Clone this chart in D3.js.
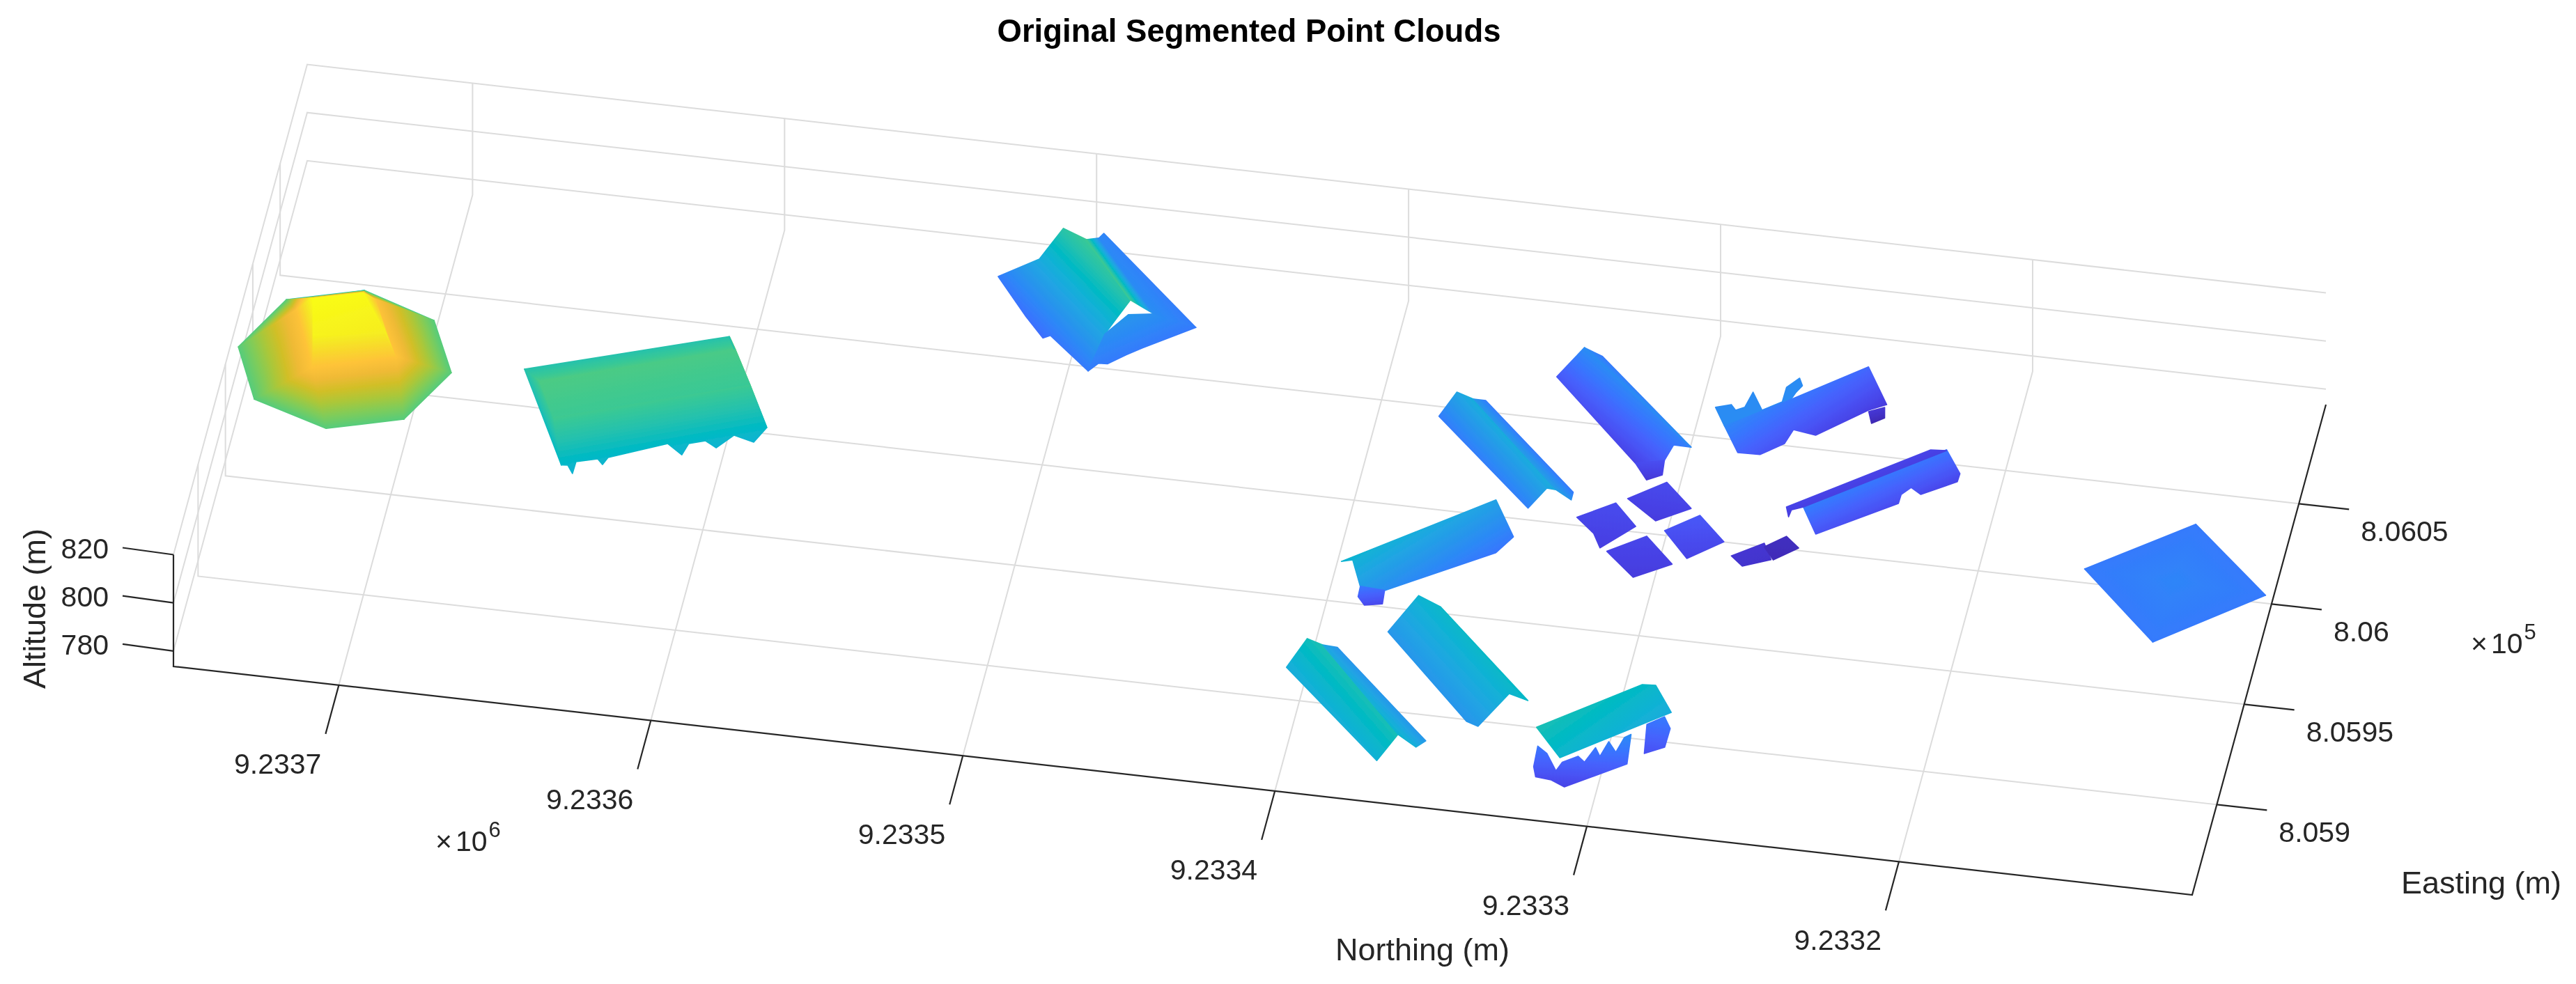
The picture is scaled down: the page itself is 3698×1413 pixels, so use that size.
<!DOCTYPE html>
<html><head><meta charset="utf-8">
<script src="https://cdn.jsdelivr.net/npm/d3@7"></script>
<style>html,body{margin:0;padding:0;background:#fff}svg{display:block}text{font-family:"Liberation Sans",Arial,sans-serif;fill:#262626}</style>
</head><body><svg id="chart" width="3698" height="1413"></svg>
<script>
// ---------- axis data (northing / easting stored in metres above these bases) ----------
const northingBase = 9233000, eastingBase = 805000;
const northingTicks = [700, 600, 500, 400, 300, 200];
const northingLabels = ["9.2337", "9.2336", "9.2335", "9.2334", "9.2333", "9.2332"];
const eastingTicks = [1050, 1000, 950, 900];
const eastingLabels = ["8.0605", "8.06", "8.0595", "8.059"];
const altitudeTicks = [820, 800, 780];
const altitudeLabels = ["820", "800", "780"];
const parula = ["#3e26a8","#4332cb","#4741e5","#4852f4","#4563fd","#3875fe","#2d87f7","#2796eb","#20a5e3","#12b1d6","#02bac3","#24c1ae","#37c897","#57cc7a","#80cc59","#abc739","#d1bf27","#efba36","#fec338","#f9d62d","#f5e924","#f9fb15"];

// ---------- building point data: [northing, easting, altitude] ----------
const domeV = [[753.9,978.7,803.1],[743.0,1004.2,803.1],[719.5,1012.9,803.1],[695.3,1002.2,803.1],[685.5,977.9,803.1],[696.3,952.8,803.1],[719.7,944.1,803.1],[744.5,954.3,803.1],[731.5,985.5,821],[716.1,991.0,821],[701.7,969.5,814.4],[727.0,959.8,814.4],[736.9,987.1,814],[712.9,996.6,814],[728.6,969.1,820.1],[705.6,974.3,819.1]];
const domeF = [[8,9,15,14],[14,15,10,11],[8,11,12],[9,13,15],[15,13,10],[9,2,13],[13,2,3],[13,3,10],[8,1,2],[8,2,9],[10,3,4],[10,4,5],[11,10,5],[11,5,6],[11,6,7],[12,11,7],[12,7,0],[12,0,1],[8,12,1]];
const roofV = [[663.9,988.5,798.9],[603.0,1015.5,798.9],[657.4,979.5,802.2],[599.3,1005.6,802.2],[584.2,976.8,796.1],[587.3,970.6,794.7],[593.7,971.3,796.1],[598.6,966.4,794.2],[602.1,967.0,796.1],[607.1,964.8,796.1],[608.8,961.7,793.7],[613.6,963.6,796.1],[631.0,953.6,796.1],[632.5,952.1,794.2],[634.1,952.4,796.1],[640.6,949.8,796.1],[641.2,946.7,793.7],[642.9,947.7,796.1],[644.9,947.4,796.1],[650.2,963.8,801.3],[592.0,990.9,800.8]];
const roofF = [[0,1,3,2],[0,2,19,18],[1,4,20,3],[2,3,20,19],[19,20,4,5,6,7,8,9,10,11,12,13,14,15,16,17,18]];
const gableV = [[507.8,1083.3,801.3],[499.8,1079.7,800.8],[480.9,1052.3,801.3],[485.0,1050.4,794.7],[488.3,1047.5,790],[491.2,1033.7,785.8],[505.9,1048.8,785.8],[508.1,1047.3,785.7],[515.1,1056.6,785.8],[527.2,1074.6,785.7],[515.0,1080.3,790],[482.8,1059.3,789.1],[475.1,1062.2,788.1],[461.3,1060.2,786.2],[476.3,1047.8,785.8],[480.7,1043.6,785.8],[485.8,1038.2,785.8],[488.6,1038.0,785.8],[497.8,1100.1,786.7],[498.6,1095.9,788.1]];
const gableF = [[0,1,2,3,4,5,6,7,8,9,10],[4,11,12,13,14,15,16,17,5],[1,19,12,2],[19,18,13,12]];
const longDV = [[338.4,1069.5,788.1],[332.5,1068.9,785.8],[296.8,1027.2,788.1],[303.2,1031.7,784.3],[305.5,1028.1,780.6],[305.5,1024.2,777.8],[310.1,1021.5,777.3],[314.5,1026.3,779.6],[345.9,1061.6,781.5]];
const longDF = [[0,2,3,4,7,8],[0,1,2],[4,5,6,7]];
const longEV = [[373.5,1036.6,791.9],[367.3,1032.0,793.7],[334.1,992.7,793.7],[337.6,996.2,790.9],[342.5,989.8,787.2],[378.3,1031.0,785.8],[367.9,1035.3,790.9],[365.2,1041.8,785.3],[329.8,1000.0,787.2],[329.6,995.1,788.1],[334.7,996.0,790.9]];
const longEF = [[0,1,2,3,4,5],[6,7,8,9,10]];
const wideFV = [[352.2,986.6,791.9],[345.0,977.4,785.3],[349.1,968.7,785.3],[379.9,941.1,788.1],[387.1,937.4,791.9],[391.1,946.5,794.7],[394.7,946.3,793.7],[388.3,944.5,785.8],[380.9,946.6,783.4],[381.2,944.4,779.6],[386.7,942.8,779.6],[388.8,943.2,782.5]];
const wideFF = [[0,1,2,3,4,5,6],[7,8,9,10,11]];
const longGV = [[398.0,902.7,797.5],[392.7,900.5,797.5],[361.5,860.2,798.4],[366.8,851.9,793.7],[402.8,892.1,793.7],[393.4,904.9,793.7],[389.8,911.0,788.1],[353.6,866.2,791.9],[356.4,864.3,790.5],[361.9,862.4,796.6]];
const longGF = [[0,1,2,3,4],[5,6,7,8,9]];
const longHV = [[367.4,931.8,795.6],[359.7,927.6,795.6],[324.5,887.0,795.6],[331.1,890.4,794.7],[338.8,877.3,790.9],[343.0,880.6,789.5],[375.2,920.3,789.0]];
const longHF = [[0,1,2,3,4,5,6]];
const porchV = [[319.0,871.3,798.4],[290.3,901.0,795.6],[286.1,901.4,795.6],[279.3,891.3,793.7],[309.9,862.2,794.7],[319.9,878.7,784.3],[316.8,877.7,782.5],[312.9,872.0,780.6],[310.9,872.2,784.3],[298.8,880.9,786.2],[291.1,885.0,788.1],[291.2,878.2,781.5],[309.3,866.9,778.7],[313.8,868.5,779.6],[318.7,868.0,780.6],[319.8,870.6,782.5],[287.8,895.1,784.3],[282.6,897.6,786.2],[280.2,894.4,784.3],[280.9,888.3,781.5],[286.9,885.2,780.6],[306.3,874.8,785.3],[304.2,874.5,783.4],[301.4,878.9,786.2],[299.7,877.1,784.3],[297.7,881.9,786.7],[295.1,880.0,784.3],[292.9,883.2,788.1]];
const porchF = [[5,6,7,8,21,22,23,24,25,26,27,10,11,12,13,14,15],[16,17,18,19,20],[0,1,2,3,4]];
const squaresV = [[303.1,1018.8,779.6],[293.5,1008.5,778.7],[303.7,1001.6,777.8],[314.1,1009.8,778.7],[317.2,1006.0,779.6],[309.1,996.2,779.2],[318.7,985.5,777.8],[321.7,991.1,778.7],[328.2,997.4,779.2],[289.6,1002.4,781.5],[280.3,993.1,779.6],[290.6,984.1,778.7],[299.5,994.1,780.6],[304.9,992.1,779.2],[294.8,981.1,778.2],[305.9,973.1,777.8],[316.1,983.2,778.7]];
const squaresF = [[0,1,2,3],[4,5,6,7,8],[9,10,11,12],[13,14,15,16]];
const shedV = [[262.2,1004.1,775.4],[257.4,999.1,775.4],[264.4,992.5,774.9],[268.2,997.8,775.4],[268.2,997.9,776.8],[264.8,990.8,776.4],[273.2,986.1,776.4],[277.4,990.0,776.8]];
const shedF = [[4,5,6,7],[0,1,2,3]];
const bumpyV = [[249.4,1081.2,783.4],[241.5,1069.4,778.7],[246.9,1066.8,777.8],[261.0,1050.7,778.7],[268.0,1050.0,780.6],[269.7,1043.3,780.1],[275.9,1033.9,782.5],[282.8,1032.6,783.4],[288.4,1040.3,787.2],[270.5,1057.7,786.2],[246.8,1066.7,777.3],[242.3,1070.2,776.8],[241.7,1066.7,775.4],[245.5,1064.4,774.5],[288.2,1039.2,788.1],[292.6,1047.8,788.1],[287.9,1050.0,788.1],[286.1,1047.5,788.1],[283.5,1049.4,788.1],[282.2,1057.2,788.1],[277.9,1049.0,788.1],[272.3,1054.1,788.1],[272.2,1061.4,788.1],[268.9,1066.5,788.1],[267.4,1063.0,788.1],[268.9,1059.2,788.1],[270.0,1054.9,788.1]];
const bumpyF = [[14,15,16,17,18,19,20,21,22,23,24,25,26],[0,1,2,3,4,5,6,7,8,9],[10,11,12,13]];
const ribbonV = [[257.2,1006.6,786.2],[217.7,1043.2,785.3],[212.7,1039.0,779.6],[212.9,1035.4,779.2],[223.1,1026.8,779.6],[226.3,1027.4,781.5],[228.8,1023.5,781.5],[229.2,1020.6,780.1],[252.2,1000.7,780.6],[264.0,1014.4,778.7],[224.1,1050.5,778.2],[219.0,1050.5,778.7],[258.6,1014.8,779.2],[262.2,1013.3,778.7],[262.9,1012.0,776.8]];
const ribbonF = [[0,1,2,3,4,5,6,7,8],[9,10,11,12,13,14]];
const padV = [[133.8,1020.2,785.8],[106.1,989.7,785.8],[137.2,960.9,785.8],[164.6,992.5,785.8],[135.1,989.8,787.2]];
const padF = [[0,1,4],[1,2,4],[2,3,4],[3,0,4]];
const clouds = [[domeV,domeF],[roofV,roofF],[gableV,gableF],[longDV,longDF],[longEV,longEF],[wideFV,wideFF],[longGV,longGF],[longHV,longHF],[porchV,porchF],[squaresV,squaresF],[shedV,shedF],[bumpyV,bumpyF],[ribbonV,ribbonF],[padV,padF]];

// ---------- orthographic 3-D frame ----------
const frame = {ox:249, oy:957, nx:2898, ny:328, ex:192, ey:-704, zy:-160.5};
const nScale = d3.scaleLinear().domain([753,106]).range([0,1]);
const eScale = d3.scaleLinear().domain([855,1099.4]).range([0,1]);
const zScale = d3.scaleLinear().domain([773.6,820]).range([0,1]);
const project = (n,e,z) => {
  const a=nScale(n), b=eScale(e), c=zScale(z);
  return [frame.ox+a*frame.nx+b*frame.ex, frame.oy+a*frame.ny+b*frame.ey+c*frame.zy];
};
const zLo=774, zHi=821;
const svg = d3.select("#chart");
svg.append("rect").attr("width",3698).attr("height",1413).attr("fill","#fff");
const defs = svg.append("defs");
defs.append("filter").attr("id","soft").attr("x",0).attr("y",0).attr("width",1).attr("height",1)
  .attr("filterUnits","objectBoundingBox").append("feGaussianBlur").attr("stdDeviation",0.7);
const root = svg.append("g").attr("filter","url(#soft)");
root.append("rect").attr("width",3698).attr("height",1413).attr("fill","#fff");
const line = d3.line();
const nMin=nScale.domain()[1], nMax=nScale.domain()[0], eMin=eScale.domain()[0], eMax=eScale.domain()[1], zMin=zScale.domain()[0], zTop=820;

// grid
const grid = root.append("g").attr("fill","none").attr("stroke","#dcdcdc").attr("stroke-width",2);
northingTicks.forEach(n=>grid.append("path").attr("d",line([project(n,eMin,zMin),project(n,eMax,zMin),project(n,eMax,zTop)])));
eastingTicks.forEach(e=>grid.append("path").attr("d",line([project(nMin,e,zMin),project(nMax,e,zMin),project(nMax,e,zTop)])));
altitudeTicks.forEach(z=>grid.append("path").attr("d",line([project(nMax,eMin,z),project(nMax,eMax,z),project(nMin,eMax,z)])));

// clouds: each planar face is filled with the colormap laid along its altitude gradient
const colorStops = parula.map((c,i)=>({offset:i/(parula.length-1),color:c}));
const colour = d3.scaleLinear().domain(parula.map((c,i)=>zLo+(zHi-zLo)*i/(parula.length-1))).range(parula).clamp(true);
const marks = root.append("g").attr("stroke-width",1.6).attr("stroke-linejoin","round");
let gid=0;
clouds.forEach(([verts,faces])=>faces.forEach(face=>{
  const pts = face.map(i=>{const v=verts[i],p=project(v[0],v[1],v[2]);return [p[0],p[1],v[2]];});
  const mx=d3.mean(pts,d=>d[0]), my=d3.mean(pts,d=>d[1]), mz=d3.mean(pts,d=>d[2]);
  let sxx=0,sxy=0,syy=0,sxz=0,syz=0;
  pts.forEach(([x,y,z])=>{const dx=x-mx,dy=y-my,dz=z-mz;sxx+=dx*dx;sxy+=dx*dy;syy+=dy*dy;sxz+=dx*dz;syz+=dy*dz;});
  const det=sxx*syy-sxy*sxy;
  const a=(sxz*syy-syz*sxy)/det, b=(syz*sxx-sxz*sxy)/det, g2=a*a+b*b;
  let paint;
  if(g2<1e-9){ paint=colour(mz); }
  else{
    const id="g"+(gid++);
    const at=z=>[mx+(z-mz)*a/g2,my+(z-mz)*b/g2];
    const p1=at(zLo),p2=at(zHi);
    const lg=defs.append("linearGradient").attr("id",id).attr("gradientUnits","userSpaceOnUse")
      .attr("x1",p1[0]).attr("y1",p1[1]).attr("x2",p2[0]).attr("y2",p2[1]);
    lg.selectAll("stop").data(colorStops).join("stop").attr("offset",d=>d.offset).attr("stop-color",d=>d.color);
    paint=`url(#${id})`;
  }
  marks.append("path").attr("d",line(pts.map(p=>[p[0],p[1]]))+"Z").attr("fill",paint).attr("stroke",paint);
}));

// axes
const axes = root.append("g").attr("fill","none").attr("stroke","#262626").attr("stroke-width",2.2);
axes.append("path").attr("d",line([project(nMax,eMin,zTop),project(nMax,eMin,zMin),project(nMin,eMin,zMin),project(nMin,eMax,zMin)]));
const txt = root.append("g").attr("font-size",41);
const nTick=[-19,70], eTick=[72,8], zTick=[-73,-10];
northingTicks.forEach((n,i)=>{
  const p=project(n,eMin,zMin),q=[p[0]+nTick[0],p[1]+nTick[1]];
  axes.append("path").attr("d",line([p,q]));
  txt.append("text").attr("x",q[0]-6).attr("y",q[1]+57).attr("text-anchor","end").text(northingLabels[i]);
});
eastingTicks.forEach((e,i)=>{
  const p=project(nMin,e,zMin),q=[p[0]+eTick[0],p[1]+eTick[1]];
  axes.append("path").attr("d",line([p,q]));
  txt.append("text").attr("x",q[0]+17).attr("y",q[1]+46).text(eastingLabels[i]);
});
altitudeTicks.forEach((z,i)=>{
  const p=project(nMax,eMin,z),q=[p[0]+zTick[0],p[1]+zTick[1]];
  axes.append("path").attr("d",line([p,q]));
  txt.append("text").attr("x",q[0]-20).attr("y",q[1]+15).attr("text-anchor","end").text(altitudeLabels[i]);
});
function mult(x,y,exp){
  const t=txt.append("text").attr("x",x).attr("y",y);
  t.append("tspan").text("×");
  t.append("tspan").attr("dx",5).text("10");
  t.append("tspan").attr("dy",-20).attr("dx",2).attr("font-size",31).text(exp);
}
mult(625,1222,"6"); mult(3547,938,"5");
const lab = root.append("g").attr("font-size",45).attr("text-anchor","middle");
lab.append("text").attr("x",2042).attr("y",1379).text("Northing (m)");
lab.append("text").attr("x",3562).attr("y",1283).text("Easting (m)");
lab.append("text").attr("transform","translate(65,874) rotate(-90)").text("Altitude (m)");
lab.append("text").attr("x",1793).attr("y",60).attr("font-size",45.5).attr("font-weight","bold").style("fill","#000").text("Original Segmented Point Clouds");
</script></body></html>
